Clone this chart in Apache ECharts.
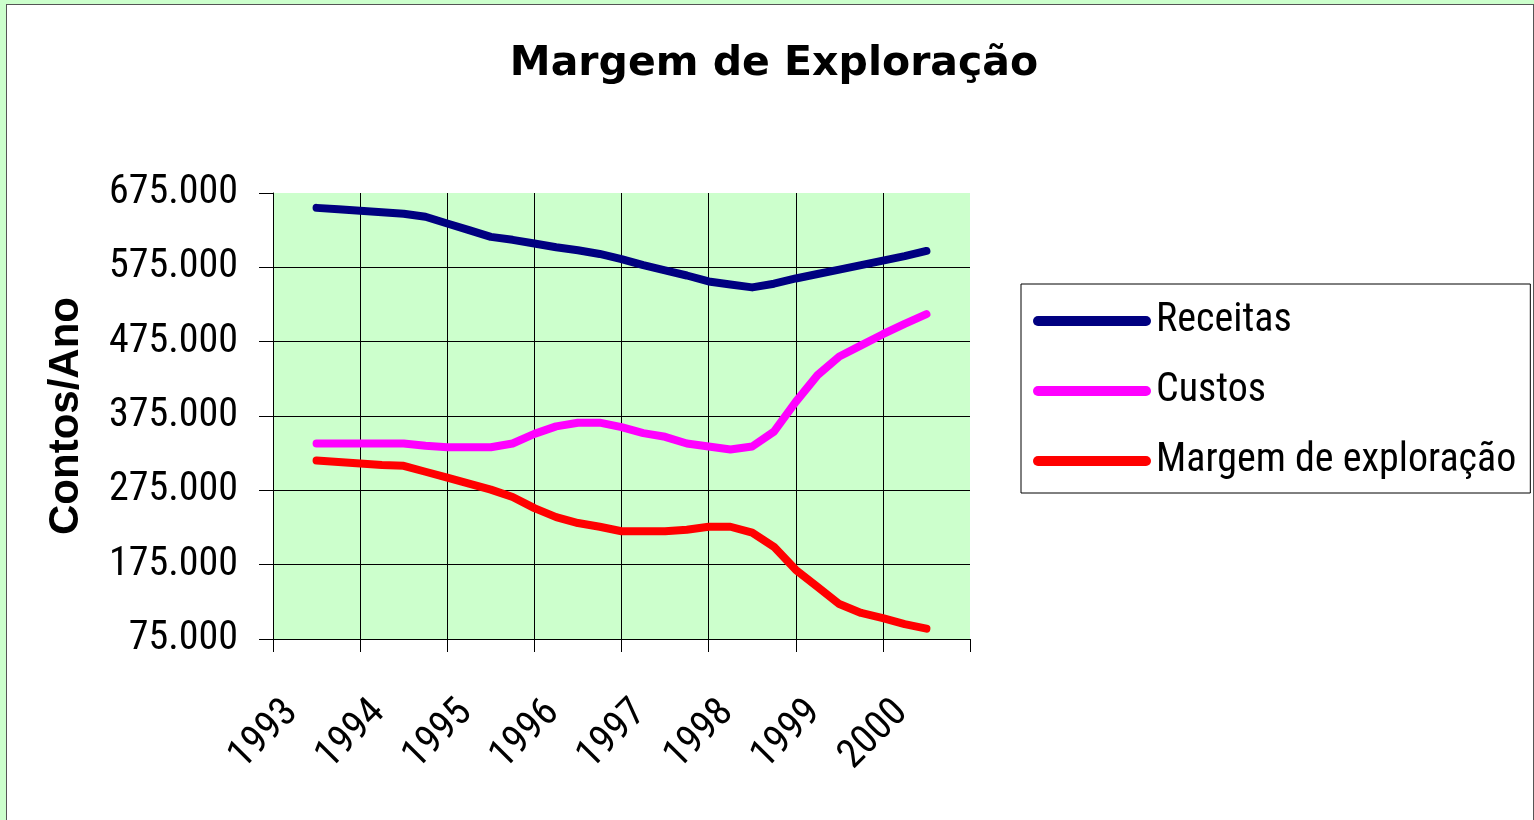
<!DOCTYPE html>
<html>
<head>
<meta charset="utf-8">
<title>Margem de Exploração</title>
<script src="https://cdn.jsdelivr.net/npm/echarts@6/dist/echarts.min.js"></script>
<style>
  html, body {
    margin: 0;
    padding: 0;
    background: #ccffcc;
    overflow: hidden;
  }
  #frame {
    position: absolute;
    left: 6px;
    top: 4px;
    width: 1526px;
    height: 900px;
    border: 1px solid #555;
    background: #fff;
  }
  #main {
    position: absolute;
    left: 0;
    top: 0;
    width: 1534px;
    height: 820px;
  }
</style>
</head>
<body>
<div id="frame"></div>
<div id="main"></div>
<script>
  var years = ['1993', '1994', '1995', '1996', '1997', '1998', '1999', '2000'];
  var yTicks = [75000, 175000, 275000, 375000, 475000, 575000, 675000];

  // quarterly points, from the middle of 1993 to the middle of 2000
  var periods = [1993, 1993.25, 1993.5, 1993.75, 1994, 1994.25, 1994.5, 1994.75,
    1995, 1995.25, 1995.5, 1995.75, 1996, 1996.25, 1996.5, 1996.75,
    1997, 1997.25, 1997.5, 1997.75, 1998, 1998.25, 1998.5, 1998.75,
    1999, 1999.25, 1999.5, 1999.75, 2000];

  var receitas = [655000, 653000, 651000, 649000, 647000, 643000, 634000, 625000,
    616000, 612000, 607000, 602000, 598000, 593000, 586000, 578000,
    571000, 564000, 556000, 552000, 548000, 553000, 560000, 566000,
    572000, 578000, 584000, 590000, 597000];

  var custos = [338000, 338000, 338000, 338000, 338000, 335000, 333000, 333000,
    333000, 338000, 351000, 361000, 366000, 366000, 360000, 352000,
    347000, 338000, 334000, 330000, 334000, 354000, 394000, 430000,
    455000, 470000, 485000, 499000, 512000];

  var margem = [315000, 313000, 311000, 309000, 308000, 300000, 292000, 284000,
    276000, 266000, 251000, 239000, 231000, 226000, 220000, 220000,
    220000, 222000, 226000, 226000, 218000, 199000, 168000, 145000,
    122000, 110000, 103000, 95000, 89000];

  var narrow = "'Roboto Condensed', 'Liberation Sans', sans-serif";
  var bold = "'Liberation Sans', Arial, sans-serif";

  function pairs(values) {
    return values.map(function (v, i) {
      return [periods[i], v];
    });
  }

  function lineSeries(name, color, values) {
    return {
      name: name,
      type: 'line',
      xAxisIndex: 1,
      symbol: 'none',
      color: color,
      lineStyle: {
        color: color,
        width: 8,
        cap: 'round',
        join: 'round'
      },
      data: pairs(values)
    };
  }

  var myChart = echarts.init(document.getElementById('main'));

  var option = {
    animation: false,
    title: {
      text: 'Margem de Exploração',
      left: 774,
      top: 44,
      padding: 0,
      textAlign: 'center',
      textStyle: {
        fontFamily: "'DejaVu Sans', sans-serif",
        fontWeight: 'bold',
        fontSize: 41,
        color: '#000'
      }
    },
    legend: {
      orient: 'vertical',
      left: 1021,
      top: 284,
      padding: [15, 14, 10, 12],
      itemGap: 26,
      itemWidth: 118,
      itemHeight: 10,
      icon: 'path://M5,0 L113,0 A5,5 0 0 1 113,10 L5,10 A5,5 0 0 1 5,0 Z',
      itemStyle: { borderWidth: 0 },
      backgroundColor: '#fff',
      borderColor: '#000',
      borderWidth: 1,
      borderRadius: 0,
      textStyle: {
        fontFamily: narrow,
        fontSize: 40,
        lineHeight: 44,
        color: '#000'
      },
      data: ['Receitas', 'Custos', 'Margem de exploração']
    },
    grid: {
      left: 273,
      right: 564,
      top: 193,
      bottom: 181,
      show: true,
      backgroundColor: '#ccffcc',
      borderWidth: 0
    },
    xAxis: [{
      type: 'category',
      data: years,
      boundaryGap: true,
      axisLine: { lineStyle: { color: '#000', width: 1 } },
      axisTick: { show: true, length: 13, lineStyle: { color: '#000' } },
      splitLine: {
        show: true,
        lineStyle: {
          color: ['#000', '#000', '#000', '#000', '#000', '#000', '#000', '#000', 'transparent'],
          width: 1
        }
      },
      axisLabel: {
        rotate: 45,
        margin: 43,
        padding: [0, 35, 0, 0],
        fontFamily: narrow,
        fontSize: 40,
        color: '#000'
      }
    }, {
      type: 'value',
      show: false,
      min: 1992.5,
      max: 2000.5
    }],
    yAxis: {
      type: 'value',
      min: 75000,
      max: 675000,
      name: 'Contos/Ano',
      nameLocation: 'middle',
      nameRotate: 90,
      nameGap: 186,
      nameTextStyle: {
        fontFamily: bold,
        fontWeight: 'bold',
        fontSize: 42,
        color: '#000'
      },
      axisLine: { show: true, lineStyle: { color: '#000', width: 1 } },
      axisTick: {
        show: true,
        length: 14,
        customValues: yTicks,
        lineStyle: { color: '#000' }
      },
      splitLine: {
        show: true,
        lineStyle: {
          color: ['#000', '#000', '#000', '#000', '#000', '#000', 'transparent'],
          width: 1
        }
      },
      axisLabel: {
        customValues: yTicks,
        margin: 35,
        fontFamily: narrow,
        fontSize: 40,
        color: '#000',
        formatter: function (v) {
          return (v / 1000).toFixed(0) + '.000';
        }
      }
    },
    series: [
      lineSeries('Receitas', '#000080', receitas),
      lineSeries('Custos', '#ff00ff', custos),
      lineSeries('Margem de exploração', '#ff0000', margem)
    ]
  };

  myChart.setOption(option);
</script>
</body>
</html>
